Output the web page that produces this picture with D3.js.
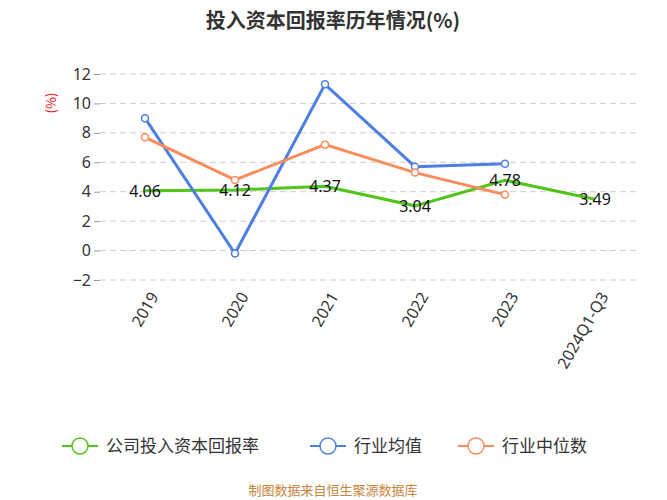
<!DOCTYPE html>
<html lang="zh">
<head>
<meta charset="UTF-8">
<style>
  body { margin: 0; font-family: "Noto Sans CJK SC", "Noto Sans", sans-serif; background: #fff; }
  .grid line { stroke: #ccc; stroke-dasharray: 6,4; }
  .line { fill: none; stroke-width: 3px; }
</style>
</head>
<body>
<svg width="667" height="500"></svg>
<script src="https://d3js.org/d3.v7.min.js"></script>
<script>
  const categories = ["2019", "2020", "2021", "2022", "2023", "2024Q1-Q3"];
  const companyValues = [4.06, 4.12, 4.37, 3.04, 4.78, 3.49];
  const industryAvg = [9.0, -0.2, 11.3, 5.7, 5.9];
  const industryMedian = [7.7, 4.8, 7.2, 5.3, 3.8];
  const yTicks = [-2, 0, 2, 4, 6, 8, 10, 12];

  const series = [
    { name: "公司投入资本回报率", values: companyValues, color: "#52c41a", labels: true },
    { name: "行业均值", values: industryAvg, color: "#4e7fe0" },
    { name: "行业中位数", values: industryMedian, color: "#f88c5c" }
  ];

  const svg = d3.select("svg");
  const plotLeft = 100, plotRight = 640, plotTop = 74, plotBottom = 280;

  const x = d3.scalePoint().domain(categories).range([plotLeft, plotRight]).padding(0.5);
  const y = d3.scaleLinear().domain([-2, 12]).range([plotBottom, plotTop]);

  svg.append("text").attr("x", 333).attr("y", 28).attr("text-anchor", "middle")
    .attr("font-size", 20).attr("font-weight", "bold").attr("fill", "#333")
    .text("投入资本回报率历年情况(%)");

  svg.append("g").attr("class", "grid")
    .selectAll("line").data(yTicks).join("line")
    .attr("x1", plotLeft).attr("x2", plotRight)
    .attr("y1", d => y(d)).attr("y2", d => y(d));

  svg.append("g").attr("transform", `translate(${plotLeft},0)`)
    .call(d3.axisLeft(y).tickValues(yTicks).tickSize(6).tickSizeOuter(0))
    .call(g => g.select(".domain").remove())
    .call(g => g.selectAll("line").attr("stroke", "#999"))
    .call(g => g.selectAll("text").attr("font-size", 16).attr("fill", "#333").attr("font-family", "Noto Sans"));

  svg.append("text").attr("transform", "translate(56,103) rotate(-90)")
    .attr("text-anchor", "middle").attr("font-size", 13).attr("fill", "red").text("(%)");

  const xAxis = svg.append("g").attr("transform", `translate(0,${plotBottom})`)
    .call(d3.axisBottom(x).tickSize(0))
    .call(g => g.select(".domain").remove());
  xAxis.selectAll("text")
    .attr("font-size", 16).attr("fill", "#333").attr("font-family", "Noto Sans")
    .attr("text-anchor", "end").attr("dy", "0.35em")
    .attr("transform", "translate(6,12) rotate(-60)");

  const line = d3.line().x((d, i) => x(categories[i])).y(d => y(d));

  series.forEach(s => {
    svg.append("path").datum(s.values).attr("class", "line")
      .attr("stroke", s.color).attr("d", line);
    if (!s.labels) {
      svg.append("g").selectAll("circle").data(s.values).join("circle")
        .attr("cx", (d, i) => x(categories[i])).attr("cy", d => y(d))
        .attr("r", 3.5).attr("fill", "#fff").attr("stroke", s.color).attr("stroke-width", 1.5);
    }
  });

  svg.append("g").selectAll("text").data(companyValues).join("text")
    .attr("x", (d, i) => x(categories[i])).attr("y", d => y(d) + 6)
    .attr("text-anchor", "middle").attr("font-size", 16).attr("fill", "#111")
    .attr("font-family", "Noto Sans")
    .text(d => d.toFixed(2));

  const legendX = [62, 310, 458];
  const lg = svg.append("g").selectAll("g").data(series).join("g")
    .attr("transform", (d, i) => `translate(${legendX[i]},446)`);
  lg.append("line").attr("x1", 0).attr("x2", 36).attr("stroke", d => d.color).attr("stroke-width", 2);
  lg.append("circle").attr("cx", 18).attr("r", 8).attr("fill", "#fff")
    .attr("stroke", d => d.color).attr("stroke-width", 1.5);
  lg.append("text").attr("x", 44).attr("dy", "0.35em").attr("font-size", 17).attr("fill", "#333")
    .text(d => d.name);

  svg.append("text").attr("x", 333).attr("y", 495).attr("text-anchor", "middle")
    .attr("font-size", 13).attr("fill", "#c8843a").text("制图数据来自恒生聚源数据库");
</script>
</body>
</html>
